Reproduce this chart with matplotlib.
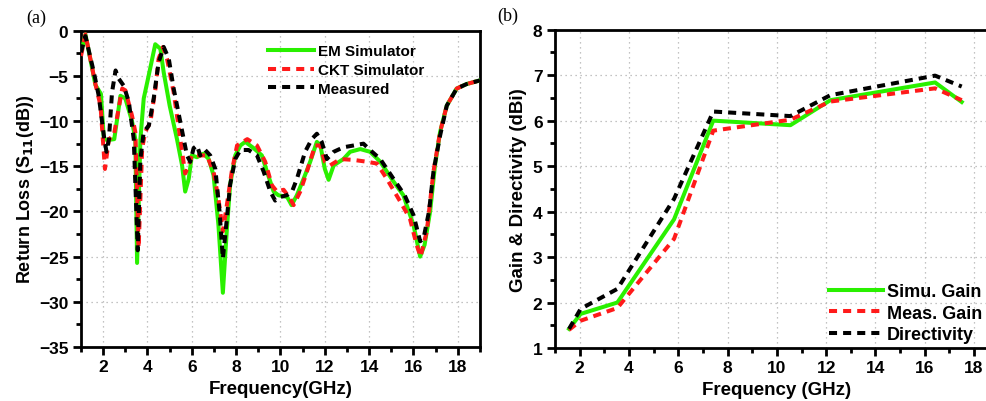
import matplotlib
matplotlib.use("Agg")
import matplotlib.pyplot as plt
from matplotlib.ticker import MultipleLocator

# ---------------- Panel (a) data: Return loss ----------------
em_f = [1.0, 1.2, 1.65, 1.9, 2.03, 2.2, 2.5, 2.78, 3.0, 3.3, 3.45, 3.53, 3.68, 3.83, 4.05, 4.35,
        4.58, 4.73, 5.0, 5.33, 5.56, 5.7, 5.86, 6.0, 6.23, 6.53, 6.76, 6.98, 7.2, 7.4, 7.58, 7.73,
        7.96, 8.19, 8.41, 8.79, 9.16, 9.39, 9.69, 9.9, 10.3, 10.5, 10.74, 11.04, 11.34, 11.64,
        11.8, 12.0, 12.17, 12.4, 12.84, 13.14, 13.6, 14.04, 14.5, 15.1, 15.54, 16.0, 16.3, 16.5,
        16.75, 16.97, 17.2, 17.5, 17.95, 18.4, 19.0]
em_db = [-2.5, -0.4, -6.0, -7.0, -12.0, -12.1, -12.0, -7.2, -7.5, -10.0, -12.0, -25.7, -12.0, -7.5,
         -5.0, -1.5, -2.0, -4.6, -8.3, -12.0, -14.9, -17.8, -16.4, -13.8, -14.0, -13.6, -14.2,
         -16.0, -21.5, -29.0, -22.0, -17.0, -13.8, -12.7, -12.3, -13.0, -13.8, -15.6, -17.8,
         -18.2, -18.4, -19.3, -18.2, -16.4, -14.5, -12.3, -12.7, -15.3, -16.5, -14.9, -14.2,
         -13.4, -13.1, -13.4, -14.5, -16.7, -18.2, -21.5, -25.0, -23.7, -20.0, -14.9, -11.2,
         -8.3, -6.4, -5.9, -5.5]

ckt_f = [1.0, 1.2, 1.65, 1.88, 2.08, 2.26, 2.48, 2.7, 2.86, 3.0, 3.3, 3.45, 3.6, 3.76, 3.9, 4.13,
         4.36, 4.5, 4.7, 4.88, 5.18, 5.48, 5.7, 5.86, 6.0, 6.38, 6.68, 6.98, 7.2, 7.4, 7.58, 7.8,
         8.04, 8.5, 8.94, 9.31, 9.61, 9.84, 10.14, 10.44, 10.59, 10.89, 11.19, 11.56, 11.79, 12.0,
         12.24, 12.7, 13.3, 13.9, 14.35, 14.8, 15.4, 15.84, 16.14, 16.32, 16.6, 16.9, 17.2,
         17.5, 17.95, 18.4, 19.0]
ckt_db = [-2.8, -0.4, -5.9, -8.3, -15.3, -12.0, -11.6, -8.6, -6.4, -6.6, -9.4, -11.2, -24.0, -13.0,
          -11.2, -10.1, -6.4, -3.1, -1.8, -3.1, -6.8, -12.0, -15.8, -14.9, -13.8, -13.8, -13.8,
          -15.6, -18.6, -22.2, -19.3, -15.6, -12.7, -12.0, -12.7, -14.5, -17.1, -17.8, -17.6,
          -18.6, -19.3, -17.8, -15.6, -12.7, -12.7, -14.5, -14.9, -14.2, -14.3, -14.5, -14.7,
          -16.4, -18.9, -20.8, -23.7, -25.0, -22.2, -15.6, -11.2, -8.3, -6.4, -5.9, -5.5]

meas_f = [1.0, 1.2, 1.58, 1.8, 2.03, 2.15, 2.26, 2.4, 2.56, 2.7, 2.93, 3.16, 3.38, 3.56, 3.68, 3.83,
          4.06, 4.28, 4.5, 4.73, 4.96, 5.18, 5.48, 5.78, 5.93, 6.08, 6.23, 6.38, 6.6, 6.83, 7.06,
          7.25, 7.4, 7.56, 7.73, 7.96, 8.19, 8.56, 8.94, 9.24, 9.54, 9.76, 9.99, 10.29, 10.52,
          10.74, 11.11, 11.41, 11.64, 11.86, 12.09, 12.4, 12.84, 13.3, 13.74, 14.04, 14.5, 15.1,
          15.6, 16.0, 16.3, 16.45, 16.7, 16.9, 17.2, 17.5, 17.95, 18.4, 19.0]
meas_db = [-2.4, -0.6, -4.6, -7.2, -11.6, -13.4, -12.0, -6.8, -4.4, -5.3, -6.1, -7.9, -12.0, -24.3,
           -14.2, -11.2, -10.5, -7.5, -3.5, -1.8, -3.1, -6.4, -10.1, -13.8, -14.5, -13.0, -12.7,
           -13.8, -13.2, -13.8, -15.3, -20.0, -25.2, -21.3, -17.0, -14.2, -13.2, -13.2, -13.8,
           -15.6, -17.8, -18.8, -18.4, -18.2, -17.8, -16.4, -13.4, -12.0, -11.4, -12.3, -14.2,
           -13.4, -12.9, -12.7, -12.5, -13.2, -14.2, -16.4, -18.2, -20.4, -23.3, -23.0, -20.0,
           -15.6, -11.6, -8.3, -6.4, -5.9, -5.5]

# ---------------- Panel (b) data: Gain & directivity ----------------
gain_f = [1.57, 2.04, 3.53, 5.83, 7.42, 10.55, 12.17, 16.42, 17.5]
simu_gain = [1.42, 1.75, 2.0, 3.83, 6.0, 5.9, 6.45, 6.84, 6.41]
meas_gain = [1.4, 1.6, 1.88, 3.4, 5.78, 6.02, 6.42, 6.71, 6.45]
directivity = [1.42, 1.86, 2.3, 4.28, 6.2, 6.1, 6.56, 6.99, 6.75]

FONT = "Liberation Sans"
plt.rcParams["font.family"] = [FONT, "DejaVu Sans"]
plt.rcParams["font.weight"] = "bold"

fig = plt.figure(figsize=(9.87, 4.02), dpi=100)
fig.patch.set_facecolor("white")

GREEN = "#2af000"
RED = "#ff1a1a"
BLACK = "#000000"
LW = 2.9
DASH = (2.0, 1.5)


def style_axes(ax):
    for s in ax.spines.values():
        s.set_linewidth(2.0)
    ax.tick_params(which="major", direction="out", length=6, width=2, labelsize=12.5, pad=3)
    ax.tick_params(which="minor", direction="out", length=3.5, width=2)
    ax.grid(True, which="major", linestyle=(0, (1, 3)), color="#b0b0b0", linewidth=0.9)
    ax.set_axisbelow(True)
    for lab in ax.get_xticklabels() + ax.get_yticklabels():
        lab.set_fontweight("bold")


# ---- Panel (a)
ax1 = fig.add_axes([81 / 987, (402 - 348) / 402, (480 - 81) / 987, (348 - 31.7) / 402])
ax1.plot(em_f, em_db, color=GREEN, lw=LW, label="EM Simulator", zorder=3)
ax1.plot(ckt_f, ckt_db, color=RED, lw=LW, dashes=DASH, label="CKT Simulator", zorder=4)
ax1.plot(meas_f, meas_db, color=BLACK, lw=LW, dashes=DASH, label="Measured", zorder=5)
ax1.set_xlim(1, 19)
ax1.set_ylim(-35, 0)
ax1.xaxis.set_major_locator(MultipleLocator(2))
ax1.xaxis.set_minor_locator(MultipleLocator(1))
ax1.yaxis.set_major_locator(MultipleLocator(5))
ax1.yaxis.set_minor_locator(MultipleLocator(2.5))
style_axes(ax1)
ax1.set_xlabel("Frequency(GHz)", fontsize=13.5, fontweight="bold", labelpad=4)
ax1.set_ylabel("Return Loss (S$_{\\mathbf{11}}$(dB))", fontsize=13, fontweight="bold", labelpad=2)
leg1 = ax1.legend(loc="upper left", bbox_to_anchor=(268 / 987, 1 - 45.5 / 402),
                  bbox_transform=fig.transFigure, frameon=False, fontsize=11,
                  handlelength=3.0, handletextpad=0.25, labelspacing=0.3, borderpad=0,
                  borderaxespad=0)
for t in leg1.get_texts():
    t.set_fontweight("bold")

# ---- Panel (b)
ax2 = fig.add_axes([555 / 987, (402 - 349) / 402, (998.7 - 555) / 987, (349 - 30.7) / 402])
ax2.plot(gain_f, simu_gain, color=GREEN, lw=LW, label="Simu. Gain", zorder=3)
ax2.plot(gain_f, meas_gain, color=RED, lw=LW, dashes=DASH, label="Meas. Gain", zorder=4)
ax2.plot(gain_f, directivity, color=BLACK, lw=LW, dashes=DASH, label="Directivity", zorder=5)
ax2.set_xlim(1, 19)
ax2.set_ylim(1, 8)
ax2.xaxis.set_major_locator(MultipleLocator(2))
ax2.xaxis.set_minor_locator(MultipleLocator(1))
ax2.yaxis.set_major_locator(MultipleLocator(1))
ax2.yaxis.set_minor_locator(MultipleLocator(0.5))
ax2.set_xticks(range(2, 19, 2))
style_axes(ax2)
ax2.set_xlabel("Frequency (GHz)", fontsize=13.5, fontweight="bold", labelpad=4)
ax2.set_ylabel("Gain & Directivity (dBi)", fontsize=13.5, fontweight="bold", labelpad=4)
leg2 = ax2.legend(loc="upper left", bbox_to_anchor=(829 / 987, 1 - 284 / 402),
                  bbox_transform=fig.transFigure, frameon=False, fontsize=13,
                  handlelength=3.0, handletextpad=0.2, labelspacing=0.25, borderpad=0,
                  borderaxespad=0)
for t in leg2.get_texts():
    t.set_fontweight("bold")

# panel labels
fig.text(26 / 987, 1 - 18 / 402, "(a)", fontsize=13, family="Liberation Serif",
         fontweight="normal", va="center", ha="left")
fig.text(497 / 987, 1 - 16 / 402, "(b)", fontsize=13, family="Liberation Serif",
         fontweight="normal", va="center", ha="left")

fig.savefig("out.png", dpi=100, facecolor="white")
